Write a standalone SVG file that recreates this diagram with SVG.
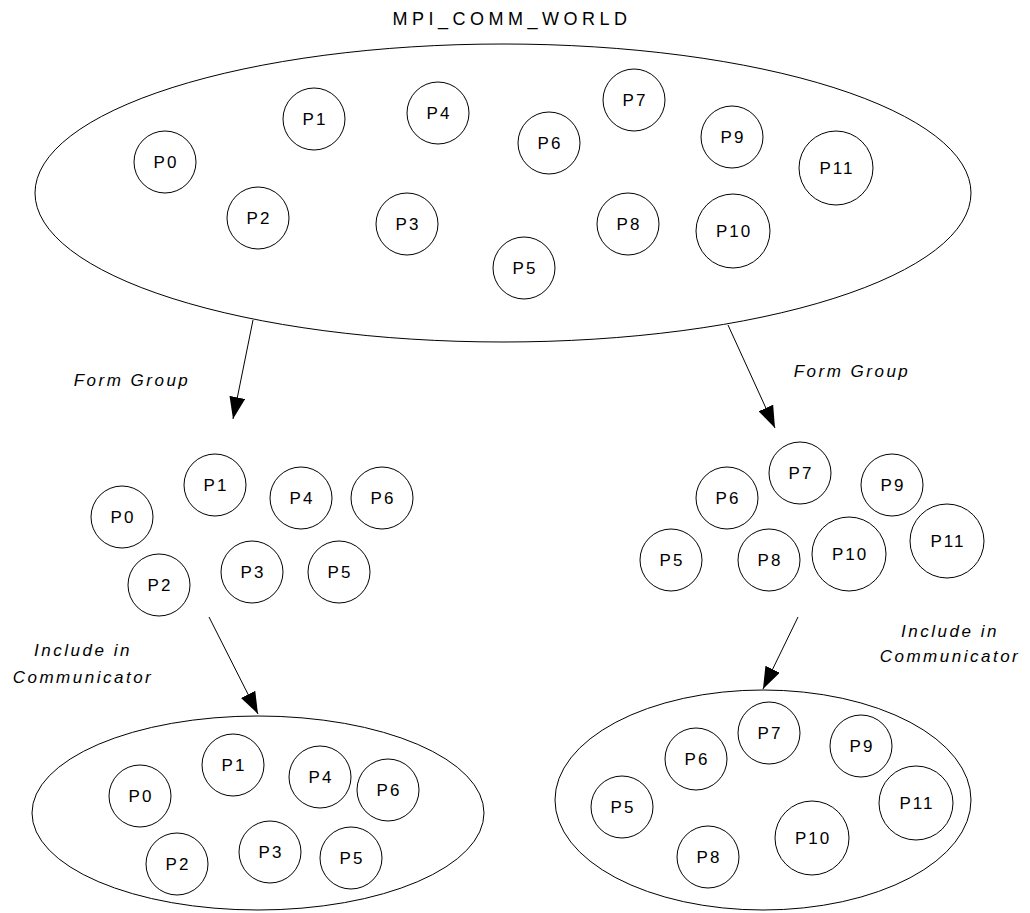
<svg xmlns="http://www.w3.org/2000/svg" width="1030" height="913" viewBox="0 0 1030 913">
  <defs>
    <marker id="arrow" markerUnits="userSpaceOnUse" markerWidth="22" markerHeight="16" refX="22" refY="8" orient="auto">
      <path d="M0,0 L22,8 L0,16 Z" fill="#000"/>
    </marker>
  </defs>
  <style>
    .proc { fill: #fff; stroke: #000; stroke-width: 1; }
    .comm { fill: #fff; stroke: #000; stroke-width: 1; }
    .lbl { font-family: "Liberation Sans", Arial, sans-serif; font-size: 17px; letter-spacing: 2px; text-anchor: middle; fill: #000; }
    .title { font-family: "Liberation Sans", Arial, sans-serif; font-size: 18px; letter-spacing: 4.5px; text-anchor: middle; fill: #000; }
    .note { font-family: "Liberation Sans", Arial, sans-serif; font-size: 17px; font-style: italic; letter-spacing: 2.5px; text-anchor: middle; fill: #000; }
    .conn { stroke: #000; stroke-width: 1; fill: none; marker-end: url(#arrow); }
  </style>
  <rect width="1030" height="913" fill="#fff"/>

  <!-- world communicator -->
  <g id="world">
    <text class="title" x="512" y="25">MPI_COMM_WORLD</text>
    <ellipse class="comm" cx="503" cy="193" rx="468" ry="149"/>
  </g>
  <g id="world-procs">
    <g id="w-p0"><circle class="proc" cx="165" cy="162" r="31"/><text class="lbl" x="166" y="168">P0</text></g>
    <g id="w-p1"><circle class="proc" cx="314" cy="119" r="31"/><text class="lbl" x="315" y="125">P1</text></g>
    <g id="w-p4"><circle class="proc" cx="438" cy="113" r="31"/><text class="lbl" x="439" y="119">P4</text></g>
    <g id="w-p2"><circle class="proc" cx="258" cy="218" r="31"/><text class="lbl" x="259" y="224">P2</text></g>
    <g id="w-p3"><circle class="proc" cx="407" cy="224" r="31"/><text class="lbl" x="408" y="230">P3</text></g>
    <g id="w-p6"><circle class="proc" cx="549" cy="143" r="31"/><text class="lbl" x="550" y="149">P6</text></g>
    <g id="w-p7"><circle class="proc" cx="634" cy="100" r="31"/><text class="lbl" x="635" y="106">P7</text></g>
    <g id="w-p9"><circle class="proc" cx="732" cy="137" r="31"/><text class="lbl" x="733" y="143">P9</text></g>
    <g id="w-p11"><circle class="proc" cx="836" cy="168" r="37"/><text class="lbl" x="837" y="174">P11</text></g>
    <g id="w-p8"><circle class="proc" cx="628" cy="224" r="31"/><text class="lbl" x="629" y="230">P8</text></g>
    <g id="w-p10"><circle class="proc" cx="733" cy="231" r="37"/><text class="lbl" x="734" y="237">P10</text></g>
    <g id="w-p5"><circle class="proc" cx="524" cy="268" r="31"/><text class="lbl" x="525" y="274">P5</text></g>
  </g>

  <!-- group A: P0-P6 -->
  <g id="group-a">
    <g id="ga-p0"><circle class="proc" cx="122" cy="517" r="31"/><text class="lbl" x="123" y="523">P0</text></g>
    <g id="ga-p1"><circle class="proc" cx="215" cy="485" r="31"/><text class="lbl" x="216" y="491">P1</text></g>
    <g id="ga-p4"><circle class="proc" cx="301" cy="498" r="31"/><text class="lbl" x="302" y="504">P4</text></g>
    <g id="ga-p6"><circle class="proc" cx="382" cy="498" r="31"/><text class="lbl" x="383" y="504">P6</text></g>
    <g id="ga-p2"><circle class="proc" cx="159" cy="585" r="31"/><text class="lbl" x="160" y="591">P2</text></g>
    <g id="ga-p3"><circle class="proc" cx="252" cy="572" r="31"/><text class="lbl" x="253" y="578">P3</text></g>
    <g id="ga-p5"><circle class="proc" cx="339" cy="572" r="31"/><text class="lbl" x="340" y="578">P5</text></g>
  </g>

  <!-- group B: P5-P11 -->
  <g id="group-b">
    <g id="gb-p6"><circle class="proc" cx="727" cy="498" r="31"/><text class="lbl" x="728" y="504">P6</text></g>
    <g id="gb-p7"><circle class="proc" cx="800" cy="473" r="31"/><text class="lbl" x="801" y="479">P7</text></g>
    <g id="gb-p9"><circle class="proc" cx="892" cy="485" r="31"/><text class="lbl" x="893" y="491">P9</text></g>
    <g id="gb-p5"><circle class="proc" cx="671" cy="560" r="31"/><text class="lbl" x="672" y="566">P5</text></g>
    <g id="gb-p8"><circle class="proc" cx="769" cy="560" r="31"/><text class="lbl" x="770" y="566">P8</text></g>
    <g id="gb-p10"><circle class="proc" cx="849" cy="554" r="37"/><text class="lbl" x="850" y="560">P10</text></g>
    <g id="gb-p11"><circle class="proc" cx="947" cy="541" r="37"/><text class="lbl" x="948" y="547">P11</text></g>
  </g>

  <!-- communicator A -->
  <g id="comm-a">
    <ellipse class="comm" cx="258" cy="813" rx="226" ry="97"/>
    <g id="ca-p0"><circle class="proc" cx="140" cy="796" r="31"/><text class="lbl" x="141" y="802">P0</text></g>
    <g id="ca-p1"><circle class="proc" cx="233" cy="765" r="31"/><text class="lbl" x="234" y="771">P1</text></g>
    <g id="ca-p4"><circle class="proc" cx="320" cy="777" r="31"/><text class="lbl" x="321" y="783">P4</text></g>
    <g id="ca-p6"><circle class="proc" cx="388" cy="790" r="31"/><text class="lbl" x="389" y="796">P6</text></g>
    <g id="ca-p2"><circle class="proc" cx="177" cy="864" r="31"/><text class="lbl" x="178" y="870">P2</text></g>
    <g id="ca-p3"><circle class="proc" cx="270" cy="852" r="31"/><text class="lbl" x="271" y="858">P3</text></g>
    <g id="ca-p5"><circle class="proc" cx="351" cy="858" r="31"/><text class="lbl" x="352" y="864">P5</text></g>
  </g>

  <!-- communicator B -->
  <g id="comm-b">
    <ellipse class="comm" cx="763" cy="800" rx="208" ry="110"/>
    <g id="cb-p7"><circle class="proc" cx="769" cy="733" r="31"/><text class="lbl" x="770" y="739">P7</text></g>
    <g id="cb-p6"><circle class="proc" cx="696" cy="759" r="31"/><text class="lbl" x="697" y="765">P6</text></g>
    <g id="cb-p9"><circle class="proc" cx="861" cy="746" r="31"/><text class="lbl" x="862" y="752">P9</text></g>
    <g id="cb-p5"><circle class="proc" cx="622" cy="807" r="31"/><text class="lbl" x="623" y="813">P5</text></g>
    <g id="cb-p11"><circle class="proc" cx="916" cy="803" r="37"/><text class="lbl" x="917" y="809">P11</text></g>
    <g id="cb-p10"><circle class="proc" cx="812" cy="838" r="37"/><text class="lbl" x="813" y="844">P10</text></g>
    <g id="cb-p8"><circle class="proc" cx="708" cy="857" r="31"/><text class="lbl" x="709" y="863">P8</text></g>
  </g>

  <!-- connectors -->
  <g id="connectors">
    <line class="conn" x1="253" y1="320" x2="233" y2="419"/>
    <line class="conn" x1="728" y1="325" x2="775" y2="428"/>
    <line class="conn" x1="209" y1="617" x2="258" y2="714"/>
    <line class="conn" x1="798" y1="617" x2="763" y2="689"/>
  </g>

  <!-- connector labels -->
  <g id="labels">
    <text class="note" x="132" y="386">Form Group</text>
    <text class="note" x="852" y="377">Form Group</text>
    <text class="note" x="83" y="656">Include in</text>
    <text class="note" x="83" y="683">Communicator</text>
    <text class="note" x="950" y="637">Include in</text>
    <text class="note" x="950" y="662">Communicator</text>
  </g>
</svg>
